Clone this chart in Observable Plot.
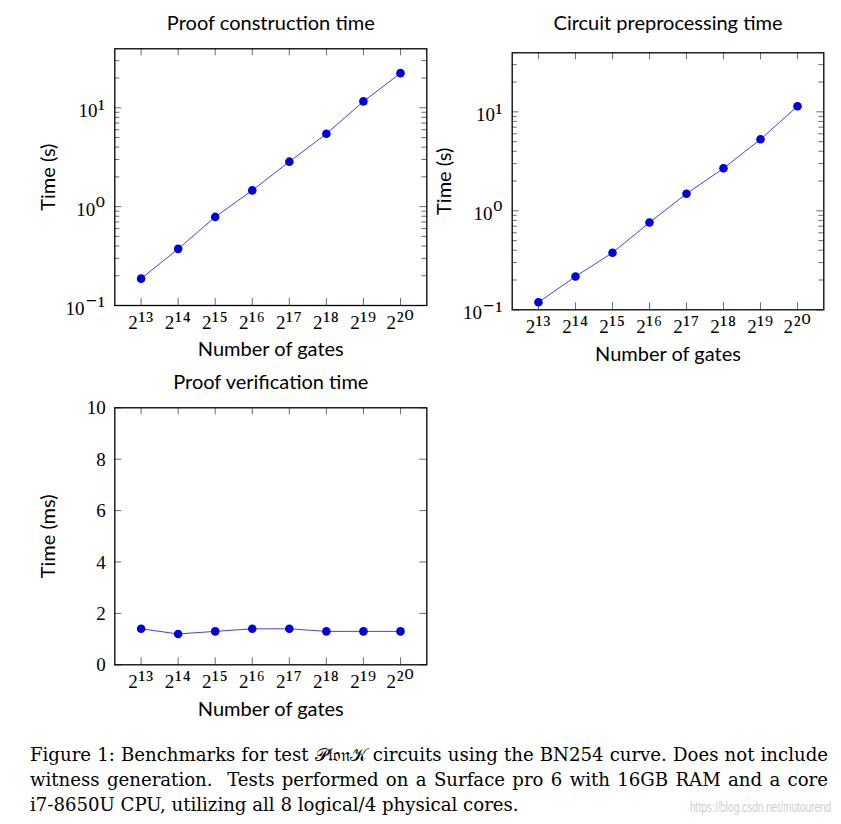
<!DOCTYPE html>
<html>
<head>
<meta charset="utf-8">
<script src="https://cdn.jsdelivr.net/npm/d3@7"></script>
<script src="https://cdn.jsdelivr.net/npm/@observablehq/plot@0.6"></script>
<style>
  html, body { margin: 0; padding: 0; background: #fff; }
  body { width: 841px; height: 824px; position: relative; overflow: hidden; }
  .chart { position: absolute; }
  .caption { position: absolute; left: 30px; top: 742px; width: 798px;
    font-family: "DejaVu Serif", "Liberation Serif", serif; font-size: 17.5px; line-height: 25px; color: #000; }
  .caption div { height: 25px; white-space: nowrap; }
  .caption .j { text-align: justify; text-align-last: justify; white-space: normal; }
  .watermark { position: absolute; left: 690px; top: 799px; font-family: "Liberation Sans", sans-serif;
    font-size: 14px; color: #cfcfcf; white-space: nowrap; transform-origin: left top; transform: scaleX(0.72); }
</style>
</head>
<body>
<div id="c1" class="chart" style="left:0px;top:0px;width:432px;height:372px"></div>
<div id="c2" class="chart" style="left:432px;top:0px;width:409px;height:372px"></div>
<div id="c3" class="chart" style="left:0px;top:366px;width:432px;height:366px"></div>
<div class="caption">
  <div class="j">Figure 1: Benchmarks for test 𝒫𝔩𝔬𝔫𝒦 circuits using the BN254 curve. Does not include</div>
  <div class="j">witness generation.&nbsp; Tests performed on a Surface pro 6 with 16GB RAM and a core</div>
  <div><span id="lastline">i7-8650U CPU, utilizing all 8 logical/4 physical cores.</span></div>
</div>
<div class="watermark">https://blog.csdn.net/mutourend</div>
<script>
// ---- data ----
const exponents = [13, 14, 15, 16, 17, 18, 19, 20];
const constructionSeconds = [0.187, 0.374, 0.787, 1.46, 2.85, 5.46, 11.6, 22.4];
const preprocessingSeconds = [0.119, 0.217, 0.377, 0.762, 1.49, 2.69, 5.28, 11.4];
const verificationMs = [1.4, 1.2, 1.3, 1.4, 1.4, 1.3, 1.3, 1.3];
const logMajorTicks = [0.1, 1, 10];
const logMinorTicks = [0.2, 0.3, 0.4, 0.5, 0.6, 0.7, 0.8, 0.9, 2, 3, 4, 5, 6, 7, 8, 9, 20, 30];
const linearTicks = [0, 2, 4, 6, 8, 10];
const titles = ["Proof construction time", "Circuit preprocessing time", "Proof verification time"];
const yLabels = ["Time (s)", "Time (s)", "Time (ms)"];
const xLabel = "Number of gates";

const SUP = {"0":"⁰","1":"¹","2":"²","3":"³","4":"⁴","5":"⁵","6":"⁶","7":"⁷","8":"⁸","9":"⁹","-":"⁻"};
const sup = (s) => String(s).split("").map((c) => SUP[c]).join("");
const powTwo = (e) => "2" + sup(e);
const powTen = (d) => "10" + sup(Math.round(Math.log10(d)));

const SERIF = '"Liberation Serif", "DejaVu Serif", serif';
const SANS = 'Lato, "Open Sans", sans-serif';

function chart(c) {
  const pw = c.W - c.ml - c.mr, ph = c.H - c.mt - c.mb;
  const rows = exponents.map((e, i) => ({e, v: c.values[i]}));
  const tick = {stroke: "#6e6e6e", strokeWidth: 1};
  const label = {fontSize: 20, fontFamily: SANS, lineAnchor: "middle", textAnchor: "middle"};
  const marks = [
    Plot.ruleX(exponents, {x: (d) => d, insetTop: ph - 7, ...tick}),
    Plot.ruleX(exponents, {x: (d) => d, insetBottom: ph - 7, ...tick}),
    Plot.ruleY(c.major, {y: (d) => d, insetRight: pw - 7, ...tick}),
    Plot.ruleY(c.major, {y: (d) => d, insetLeft: pw - 7, ...tick})
  ];
  if (c.minor) {
    marks.push(
      Plot.ruleY(c.minor, {y: (d) => d, insetRight: pw - 5, ...tick}),
      Plot.ruleY(c.minor, {y: (d) => d, insetLeft: pw - 5, ...tick})
    );
  }
  marks.push(
    Plot.line(rows, {x: "e", y: "v", stroke: "#2a2aff", strokeWidth: 0.9}),
    Plot.dot(rows, {x: "e", y: "v", r: 4.3, fill: "#0000dc"}),
    Plot.frame({stroke: "#000", strokeWidth: 1.3}),
    Plot.axisX(exponents, {tickSize: 0, tickPadding: 10, tickFormat: powTwo, label: null,
      fontSize: 19, fontFamily: SERIF}),
    Plot.axisY(c.major, {tickSize: 0, tickPadding: 9, tickFormat: c.fmt, label: null,
      fontSize: 19, fontFamily: SERIF, dy: c.ydy}),
    Plot.text([c.title], {frameAnchor: "top", dy: c.tdy, text: (d) => d, ...label}),
    Plot.text([xLabel], {frameAnchor: "bottom", dy: 44.5, text: (d) => d, ...label}),
    Plot.text([c.yLabel], {frameAnchor: "left", dx: c.ldx, rotate: -90, text: (d) => d, ...label})
  );
  const svg = Plot.plot({
    width: c.W, height: c.H,
    marginLeft: c.ml, marginRight: c.mr, marginTop: c.mt, marginBottom: c.mb,
    x: {type: "linear", domain: [12.29, 20.71]},
    y: {type: c.type, domain: c.domain},
    style: {background: "transparent", color: "#000", overflow: "visible"},
    marks
  });
  // enlarge the Unicode superscript part of exponent tick labels (TeX-like proportions)
  d3.select(svg).selectAll('g[aria-label$="tick label"] text').each(function () {
    const t = this.textContent;
    const m = t.match(/^(\d+)([⁰¹²³⁴⁵⁶⁷⁸⁹⁻]+)$/);
    if (!m) return;
    const el = d3.select(this).text(null);
    el.append("tspan").text(m[1]);
    el.append("tspan").attr("font-size", 23).attr("dy", -1.5).attr("letter-spacing", 0.8)
      .attr("dx", 0.6).text(m[2]);
  });
  return svg;
}

document.getElementById("c1").append(chart({
  W: 432, H: 372, ml: 114.3, mr: 5.7, mt: 48.3, mb: 67,
  values: constructionSeconds, type: "log", domain: [0.1, 39.5],
  major: logMajorTicks, minor: logMinorTicks, fmt: powTen, ydy: 3.4,
  title: titles[0], tdy: -25.7, yLabel: yLabels[0], ldx: -66.4
}));
document.getElementById("c2").append(chart({
  W: 409, H: 372, ml: 79.7, mr: 17.7, mt: 52.3, mb: 62.7,
  values: preprocessingSeconds, type: "log", domain: [0.1, 39.5],
  major: logMajorTicks, minor: logMinorTicks, fmt: powTen, ydy: 3.4,
  title: titles[1], tdy: -29.2, yLabel: yLabels[1], ldx: -67.4
}));
document.getElementById("c3").append(chart({
  W: 432, H: 366, ml: 114.3, mr: 5.7, mt: 41.3, mb: 67.7,
  values: verificationMs, type: "linear", domain: [0, 10],
  major: linearTicks, minor: null, fmt: (d) => String(d), ydy: 0.6,
  title: titles[2], tdy: -25.4, yLabel: yLabels[2], ldx: -66.5
}));

// fit the caption font so its unjustified last line spans the same width as in the figure
const last = document.getElementById("lastline");
const cap = document.querySelector(".caption");
const w = last.getBoundingClientRect().width;
if (w > 0) cap.style.fontSize = (17.5 * 489 / w).toFixed(2) + "px";
</script>
</body>
</html>
